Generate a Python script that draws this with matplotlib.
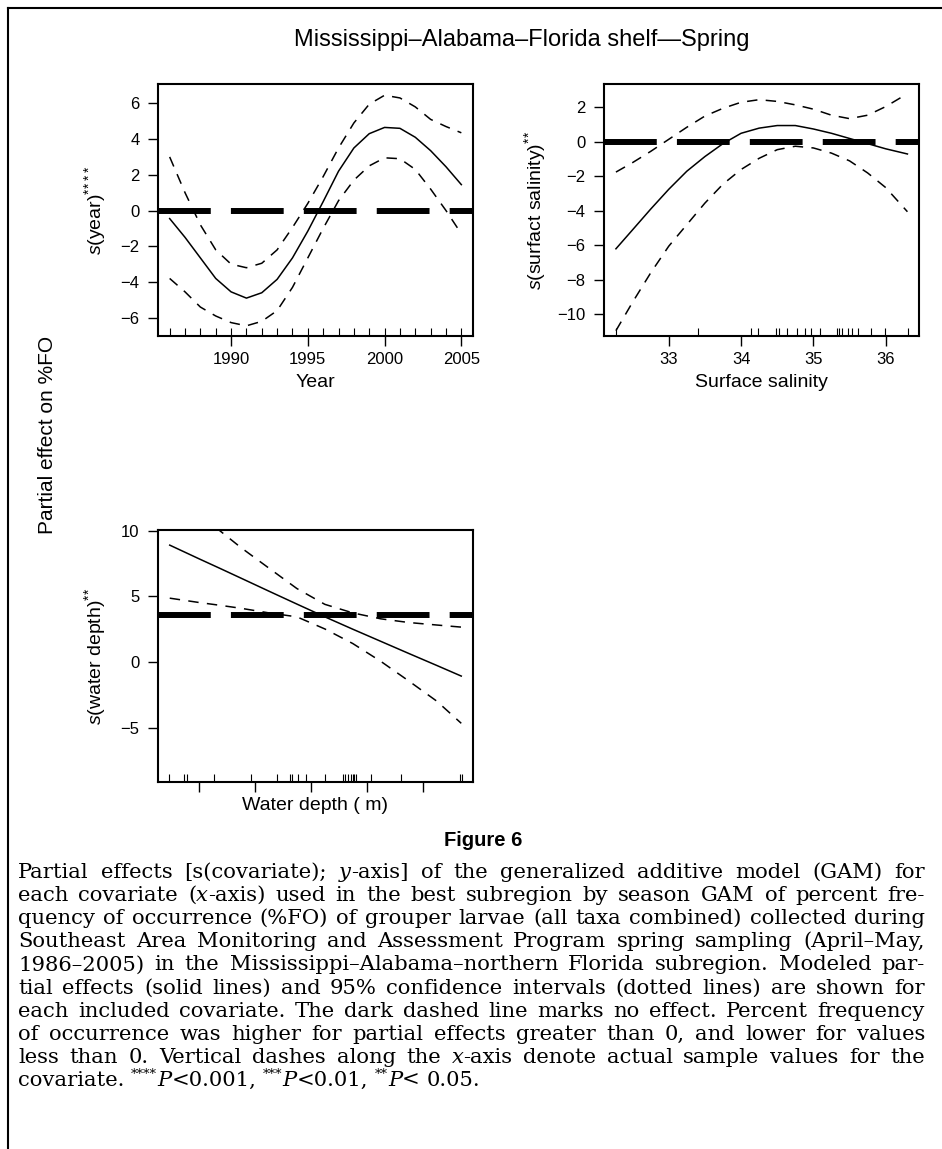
import re
import matplotlib
matplotlib.use("Agg")
import matplotlib.pyplot as plt
from matplotlib.font_manager import FontProperties
from matplotlib.lines import Line2D

plt.rcParams["font.family"] = "Liberation Sans"
plt.rcParams["mathtext.fontset"] = "custom"
plt.rcParams["mathtext.rm"] = "Liberation Sans"
plt.rcParams["mathtext.it"] = "Liberation Sans:italic"
plt.rcParams["lines.scale_dashes"] = False

# --- data ---
year = [1986, 1987, 1988, 1989, 1990, 1991, 1992, 1993, 1994, 1995,
        1996, 1997, 1998, 1999, 2000, 2001, 2002, 2003, 2004, 2005]
year_fit = [-0.45, -1.5, -2.65, -3.8, -4.55, -4.9, -4.6, -3.85, -2.65, -1.15,
            0.5, 2.2, 3.5, 4.3, 4.65, 4.6, 4.1, 3.35, 2.45, 1.45]
year_upper = [3.0, 1.0, -0.8, -2.2, -3.0, -3.2, -2.95, -2.2, -0.95, 0.4,
              1.9, 3.5, 4.9, 5.95, 6.45, 6.3, 5.8, 5.1, 4.7, 4.35]
year_lower = [-3.8, -4.55, -5.4, -5.9, -6.27, -6.45, -6.2, -5.6, -4.3, -2.65,
              -1.0, 0.55, 1.7, 2.5, 2.95, 2.9, 2.3, 1.2, 0.0, -1.3]
year_rug = year

salinity = [32.27, 32.5, 32.75, 33.0, 33.25, 33.5, 33.75, 34.0, 34.25,
            34.5, 34.75, 35.0, 35.25, 35.5, 35.75, 36.0, 36.3]
sal_fit = [-6.2, -5.1, -3.9, -2.75, -1.7, -0.85, -0.1, 0.5, 0.8,
           0.95, 0.95, 0.75, 0.5, 0.2, -0.1, -0.4, -0.7]
sal_upper = [-1.75, -1.2, -0.55, 0.15, 0.85, 1.5, 1.95, 2.3, 2.45,
             2.35, 2.15, 1.9, 1.55, 1.35, 1.55, 2.05, 2.8]
sal_lower = [-10.95, -9.3, -7.6, -6.05, -4.8, -3.55, -2.45, -1.6, -0.95,
             -0.45, -0.25, -0.35, -0.65, -1.1, -1.8, -2.65, -4.05]
sal_rug = [32.27, 33.40, 34.14, 34.23, 34.48, 34.53, 34.63, 34.77, 34.88, 34.96,
           35.09, 35.32, 35.36, 35.39, 35.48, 35.53, 35.62, 35.80, 35.99, 36.31]

depth = [9.5, 20, 27.4, 35, 45, 55, 65, 75, 85, 95, 105, 113.8]
depth_fit = [8.9, 7.86, 7.14, 6.39, 5.4, 4.42, 3.45, 2.51, 1.59, 0.67, -0.24, -1.05]
depth_upper = [12.8, 11.2, 10.0, 8.71, 7.15, 5.6, 4.4, 3.75, 3.3, 3.02, 2.83, 2.67]
depth_lower = [4.87, 4.54, 4.33, 4.1, 3.75, 3.45, 2.53, 1.42, 0.07, -1.42, -2.95, -4.64]
depth_rug = [9.4, 14.5, 15.7, 25.4, 38.4, 47.7, 52.4, 53.3, 55.4, 58.4, 64.9,
             71.5, 72.1, 73.3, 74.5, 75.0, 75.6, 76.2, 81.5, 92.3, 113.5, 113.9]

panels = [
    dict(x=year, fit=year_fit, up=year_upper, lo=year_lower, rug=year_rug,
         noeffect=0, xlim=(1985.24, 2005.76), ylim=(-7.02, 7.08),
         xticks=[1990, 1995, 2000, 2005], xticklabels=["1990", "1995", "2000", "2005"],
         yticks=[-6, -4, -2, 0, 2, 4, 6],
         xlabel="Year", ylabel=r"$\mathit{s}$(year)$^{*\!*\!*\!*}$",
         pos=[158, 84, 315, 252], ylabx=-0.16, xlaby=-0.15),
    dict(x=salinity, fit=sal_fit, up=sal_upper, lo=sal_lower, rug=sal_rug,
         noeffect=0, xlim=(32.105, 36.46), ylim=(-11.26, 3.36),
         xticks=[33, 34, 35, 36], xticklabels=["33", "34", "35", "36"],
         yticks=[-10, -8, -6, -4, -2, 0, 2],
         xlabel="Surface salinity", ylabel=r"$\mathit{s}$(surfact salinity)$^{*\!*}$",
         pos=[604, 84, 315, 252], ylabx=-0.178, xlaby=-0.15),
    dict(x=depth, fit=depth_fit, up=depth_upper, lo=depth_lower, rug=depth_rug,
         noeffect=3.6, xlim=(5.3, 118.0), ylim=(-9.1, 10.05),
         xticks=[20, 40, 60, 80, 100], xticklabels=["", "", "", "", ""],
         yticks=[-5, 0, 5, 10],
         xlabel="Water depth ( m)", ylabel=r"$\mathit{s}$(water depth)$^{*\!*}$",
         pos=[158, 530, 315, 252], ylabx=-0.16, xlaby=-0.06),
]

W, H = 942, 1149
fig = plt.figure(figsize=(W / 100, H / 100), dpi=100)

for p in panels:
    left, top, w, h = p["pos"]
    ax = fig.add_axes([left / W, 1 - (top + h) / H, w / W, h / H])
    ax.plot(p["x"], p["fit"], color="black", lw=1.1)
    ax.plot(p["x"], p["up"], color="black", lw=1.1, dashes=(7.5, 6))
    ax.plot(p["x"], p["lo"], color="black", lw=1.1, dashes=(7.5, 6))
    ax.axhline(p["noeffect"], color="black", lw=4.3, dashes=(38, 14.5),
               dash_capstyle="butt")
    ax.vlines(p["rug"], 0, 0.03, transform=ax.get_xaxis_transform(),
              color="black", lw=0.8)
    ax.set_xlim(p["xlim"])
    ax.set_ylim(p["ylim"])
    ax.set_xticks(p["xticks"])
    ax.set_xticklabels(p["xticklabels"])
    ax.set_yticks(p["yticks"])
    ax.tick_params(direction="out", length=7.2, width=1.0, labelsize=12)
    ax.tick_params(axis="x", pad=4)
    ax.tick_params(axis="y", pad=6)
    for s in ax.spines.values():
        s.set_linewidth(1.5)
    ax.set_xlabel(p["xlabel"], fontsize=14)
    ax.set_ylabel(p["ylabel"], fontsize=14)
    ax.xaxis.set_label_coords(0.5, p["xlaby"])
    ax.yaxis.set_label_coords(p["ylabx"], 0.5)

fig.text(522 / W, 1 - 40 / H, "Mississippi\u2013Alabama\u2013Florida shelf\u2014Spring",
         ha="center", va="center", fontsize=17)
fig.text(48 / W, 1 - 435 / H, "Partial effect on %FO", rotation=90,
         ha="center", va="center", fontsize=15)
fig.text(483 / W, 1 - 840 / H, "Figure 6", ha="center", va="center",
         fontsize=14.5, fontweight="bold")

# frame around the figure panel
fig.add_artist(Line2D([8 / W, 8 / W], [0, 1 - 8 / H], transform=fig.transFigure,
                      color="black", lw=1.5))
fig.add_artist(Line2D([8 / W, 1], [1 - 8 / H, 1 - 8 / H], transform=fig.transFigure,
                      color="black", lw=1.5))

# caption, justified word by word
caption_lines = [
    "Partial effects [s(covariate); _y_-axis] of the generalized additive model (GAM) for",
    "each covariate (_x_-axis) used in the best subregion by season GAM of percent fre-",
    "quency of occurrence (%FO) of grouper larvae (all taxa combined) collected during",
    "Southeast Area Monitoring and Assessment Program spring sampling (April\u2013May,",
    "1986\u20132005) in the Mississippi\u2013Alabama\u2013northern Florida subregion. Modeled par-",
    "tial effects (solid lines) and 95% confidence intervals (dotted lines) are shown for",
    "each included covariate. The dark dashed line marks no effect. Percent frequency",
    "of occurrence was higher for partial effects greater than 0, and lower for values",
    "less than 0. Vertical dashes along the _x_-axis denote actual sample values for the",
    "covariate. ^****^_P_<0.001, ^***^_P_<0.01, ^**^_P_< 0.05.",
]
cap_font = "DejaVu Serif"
cap_left, cap_right = 18, 925
cap_base0, cap_step = 878, 23.1
renderer = fig.canvas.get_renderer()


def parts_of(word):
    out = []
    for piece in re.split(r"(_[^_]+_|\^[^^]+\^)", word):
        if not piece:
            continue
        if piece[0] == "_":
            out.append((piece[1:-1], "italic", False))
        elif piece[0] == "^":
            out.append((piece[1:-1], "normal", True))
        else:
            out.append((piece, "normal", False))
    return out


def prop_of(style, sup, size):
    return FontProperties(family=cap_font, style=style,
                          size=size * (0.62 if sup else 1.0))


def width_of(text, style, sup, size):
    return renderer.get_text_width_height_descent(
        text, prop_of(style, sup, size), ismath=False)[0]


def natural_width(line, size):
    sp = width_of("n n", "normal", False, size) - width_of("nn", "normal", False, size)
    words = [parts_of(wd) for wd in line.split(" ")]
    return sum(width_of(t, st, s, size) for wd in words for t, st, s in wd) + sp * (len(words) - 1)


# pick the size at which the widest line nearly fills the measure
widest = max(natural_width(ln, 13.0) for ln in caption_lines[:-1])
cap_size = 13.0 * 0.985 * (cap_right - cap_left) / widest
space_w = width_of("n n", "normal", False, cap_size) - width_of("nn", "normal", False, cap_size)

for i, line in enumerate(caption_lines):
    words = [parts_of(wd) for wd in line.split(" ")]
    widths = [sum(width_of(t, st, sp, cap_size) for t, st, sp in wd) for wd in words]
    if i < len(caption_lines) - 1:
        gap = (cap_right - cap_left - sum(widths)) / (len(words) - 1)
    else:
        gap = space_w
    x = cap_left
    base = cap_base0 + i * cap_step
    for wd, ww in zip(words, widths):
        xx = x
        for t, st, sp in wd:
            yb = base - (0.5 * cap_size if sp else 0)
            fig.text(xx / W, 1 - yb / H, t, ha="left", va="baseline",
                     fontproperties=prop_of(st, sp, cap_size))
            xx += width_of(t, st, sp, cap_size)
        x += ww + gap

fig.savefig("out.png", dpi=100)
